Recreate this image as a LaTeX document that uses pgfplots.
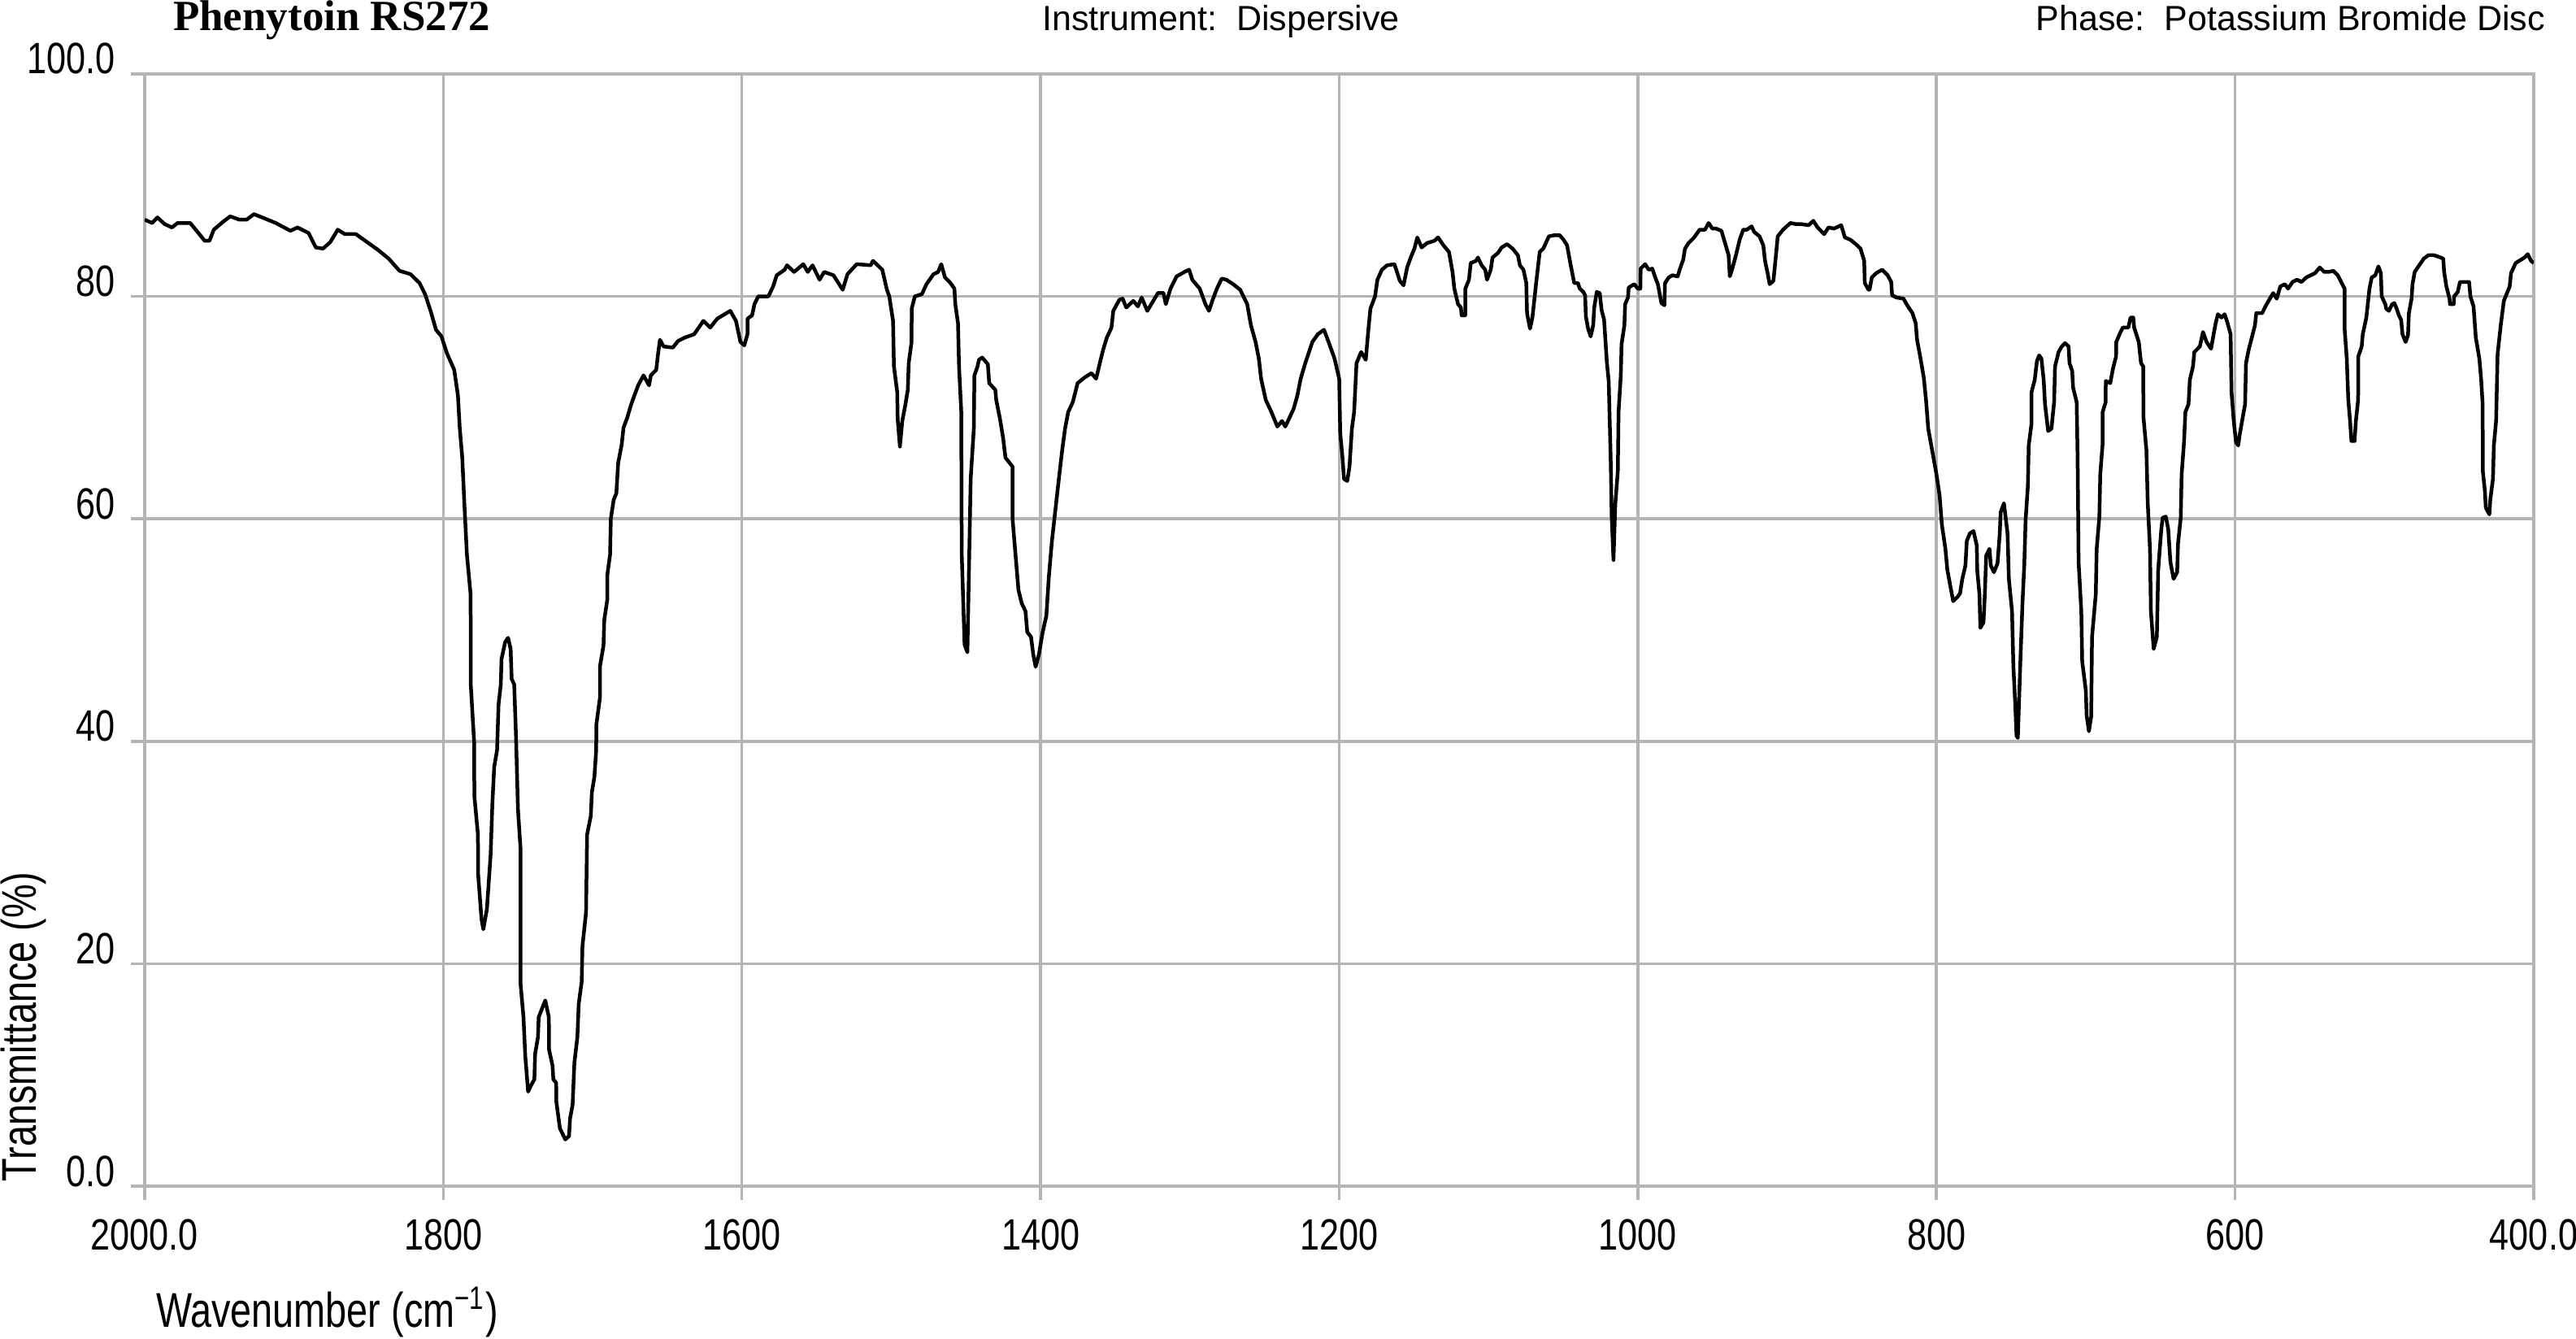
\documentclass[border=0pt]{standalone}
\usepackage{fontspec}
\usepackage{pgfplots}
\pgfplotsset{compat=1.18}
\setmainfont{Liberation Sans}
\newfontfamily\tickfont[FakeStretch=0.8]{Liberation Sans}
\newfontfamily\labfont[FakeStretch=0.78]{Liberation Sans}
\newfontfamily\headfont{Liberation Sans}
\newfontfamily\titlefont{Liberation Serif}
\definecolor{gridgray}{RGB}{180,180,180}
\pgfplotstableread{
x y
2000 86.9
1995 86.6
1991.5 87.1
1986.6 86.5
1981.7 86.2
1978 86.6
1969.5 86.6
1963.4 85.6
1959.8 85.0
1956.6 85.0
1953.7 86.0
1947.6 86.7
1942.7 87.2
1936.6 86.9
1931.7 86.9
1926.8 87.4
1919.5 87.0
1912.2 86.6
1902.4 85.9
1897.6 86.2
1890.2 85.7
1885.4 84.4
1880.5 84.3
1875.6 84.9
1870.7 86.0
1865.9 85.6
1858.5 85.6
1851.2 84.9
1843.9 84.2
1836.6 83.4
1829.3 82.3
1822 82.0
1815.9 81.2
1812.2 80.2
1808.5 78.7
1804.9 77.0
1801.2 76.4
1797.6 74.9
1792.7 73.4
1790.2 71.1
1789 68.2
1787.3 65.5
1785.9 61.4
1784.2 56.8
1781.7 53.2
1781.6 45.1
1779.3 39.8
1779.2 35.1
1776.8 31.6
1776.7 28.1
1774.4 24.0
1773.2 23.1
1770.8 24.9
1768.3 29.8
1767.1 34.5
1765.9 37.7
1764 39.2
1763 43.3
1761.5 45.1
1761 47.4
1758.6 48.9
1756.6 49.3
1754.9 48.3
1754.2 45.6
1752.5 45.1
1751.3 40.4
1750 33.9
1748.3 30.4
1748.2 18.1
1746.3 15.2
1745.1 11.7
1743.2 8.5
1741.5 9.0
1739 9.6
1738.5 11.9
1736.6 13.4
1736.1 15.2
1731.7 16.7
1729.3 15.2
1729.2 12.3
1726.8 10.8
1726.3 9.6
1724.4 9.3
1724.3 7.6
1721.9 5.2
1718.3 4.2
1715.8 4.5
1715.1 6.1
1713.4 7.3
1712.2 11.1
1710.2 13.4
1709.3 16.4
1707.3 18.4
1706.8 21.6
1704.4 24.6
1703.7 31.6
1701.2 33.3
1700.5 35.4
1698.8 36.8
1697.6 39.2
1697.5 41.5
1695.1 43.9
1695.0 46.8
1692.7 48.6
1692.2 50.9
1690.2 52.7
1690.1 55.0
1688.3 56.8
1687.8 60.0
1685.9 61.7
1684.1 62.3
1682.9 65.0
1680.5 66.7
1679.3 68.2
1676.8 69.1
1674.4 70.2
1672 71.1
1669.5 72.0
1665.9 72.9
1662.2 72.0
1661 72.9
1657.4 73.4
1656.1 74.9
1654.9 76.1
1652.5 75.5
1646.3 75.4
1642.7 76.0
1638.3 76.3
1632 76.6
1625.8 77.8
1621.2 77.2
1616.5 78.0
1610.3 78.5
1607.8 78.7
1604 77.8
1601 75.9
1598.4 75.6
1596.3 76.6
1596.2 78.0
1593.2 78.3
1591.6 79.3
1589.1 80.0
1582.3 80.0
1579.1 80.9
1576.7 81.9
1571.4 82.4
1569.8 82.8
1565.1 82.2
1558.9 82.9
1555.9 82.2
1552.7 82.8
1548 81.5
1544.9 82.2
1538.7 81.9
1532.5 80.6
1529.3 82.0
1523.1 82.9
1513.8 82.8
1512.2 83.2
1506 82.4
1502.9 80.6
1501.3 80.0
1498.8 77.8
1498.2 73.7
1496 71.4
1495.7 69.0
1494.2 66.5
1492.6 68.8
1490.5 70.3
1488.9 71.6
1488.3 74.0
1486.4 75.9
1486.3 78.9
1484.2 80.0
1479.5 80.2
1476.4 81.1
1471.7 82.0
1468.6 82.2
1466.5 82.9
1464 81.7
1460.9 81.3
1457.7 80.7
1457.1 79.3
1455.3 77.6
1454.6 73.7
1453.1 69.6
1452.8 56.9
1450.9 48.7
1449 48.0
1447.8 56.5
1446.8 63.6
1444.7 68.1
1444.3 72.9
1442.2 73.7
1441.3 74.3
1439.1 74.5
1435.3 73.9
1434.4 72.2
1430.3 71.6
1429.7 70.7
1427.2 69.0
1425.1 67.3
1423.5 65.5
1418.8 64.7
1418.7 59.9
1416.6 56.5
1414.8 53.6
1412.6 52.4
1410.1 51.7
1408.9 49.8
1406.4 49.4
1404.9 47.8
1403.3 46.7
1401.1 47.8
1398.6 49.8
1396.1 51.3
1394.5 54.7
1392.4 58.0
1389.9 61.0
1387.4 64.0
1385.5 66.2
1383.6 68.1
1381.5 69.6
1378.4 70.5
1375.2 72.2
1370.6 72.7
1365.9 73.1
1362.8 72.6
1360.3 74.0
1358.1 75.2
1355.6 76.3
1352.5 77.2
1351.3 78.7
1347.2 79.7
1345 79.8
1342.6 79.0
1337.9 79.6
1334.8 79.1
1332.3 79.9
1328.5 78.7
1325.4 79.4
1321.4 80.3
1317.7 80.3
1316.1 79.3
1313 80.7
1308.9 81.8
1303.6 82.2
1300.5 82.4
1298.4 81.5
1293.4 80.7
1289.6 79.3
1287.2 78.7
1285 79.6
1281.9 80.7
1278.7 81.6
1275.6 81.5
1271 81.1
1266.3 80.6
1261.6 79.3
1259.1 77.4
1256 75.9
1253.8 74.4
1252.3 72.6
1249.2 70.7
1245.4 69.6
1241.4 68.3
1238.3 68.8
1236.1 68.3
1233.6 69.0
1230.5 69.9
1228 71.1
1225.8 72.6
1222.7 74.0
1218 75.9
1214.3 76.6
1210.2 77.0
1207.1 75.9
1203.1 74.4
1200 72.6
1199.3 67.7
1197.8 65.5
1196.8 63.6
1194.6 63.4
1193.1 64.7
1191.5 68.1
1190 69.6
1188.4 74.0
1185.3 75.0
1182.2 74.3
1180.6 76.8
1179.1 78.9
1176 80.0
1174.4 81.5
1171.4 82.4
1167.9 82.8
1163 82.9
1159.4 81.4
1156.9 81.0
1154.5 82.6
1152.1 83.5
1149.6 84.3
1147.7 85.3
1144.8 84.4
1141.1 84.8
1136.2 85.0
1133.8 85.3
1130.2 84.6
1126.5 84.0
1124.1 82.2
1122.9 80.7
1120.4 79.3
1118.5 79.0
1118 78.3
1115.6 78.3
1115.5 80.7
1113.1 81.5
1111.9 83.0
1108.3 83.2
1107.1 83.5
1104.6 82.8
1102.2 82.4
1101 81.5
1098.5 82.4
1097.3 83.5
1093.7 83.9
1091.2 84.4
1087.6 84.7
1083.9 84.3
1080.3 83.7
1079 82.8
1076.6 82.4
1074.7 81.2
1074.2 78.5
1072.2 77.1
1070.6 78.1
1068.1 81.2
1065.7 84.0
1063.3 84.3
1059.6 85.4
1056 85.5
1052.3 85.5
1049.8 85.1
1047.4 84.6
1045.5 83.2
1042.6 81.2
1040.1 81.2
1038.9 80.7
1036.5 80.4
1035.3 80.1
1034.8 78.2
1033.3 77.1
1031.6 76.4
1029.9 77.4
1029.2 79.0
1027.5 80.4
1025.5 80.3
1024.3 78.8
1022.6 77.9
1020.7 74.0
1019.5 72.4
1018.2 65.5
1017.5 60.2
1016.3 56.3
1015.1 61.3
1013.4 64.3
1012.9 69.6
1011.4 72.9
1010.9 75.7
1009 77.4
1008.5 79.3
1006.6 79.9
1006.1 80.8
1002.4 81.1
1000 80.7
998.3 80.7
998.1 82.5
995.1 82.9
992.7 82.4
990.3 82.5
988.6 81.8
986.6 81.1
984.2 79.4
982.2 79.2
981.8 81.2
979.3 81.7
976.9 81.9
973.3 81.8
972 82.4
969.6 83.3
968.4 84.3
966 84.8
962.3 85.3
958.6 86.0
955 86.0
952.6 86.6
950.1 86.1
947.7 86.1
944 85.9
941.6 84.8
939.2 83.7
938.4 81.8
936.7 82.5
934.3 83.7
931.8 85.1
929.4 86.0
927 86.0
923.8 86.3
922.1 85.8
918.5 85.4
916 84.6
914.8 83.2
913.1 82.1
911.7 81.1
909.2 81.4
907.5 83.7
906.3 85.4
902.7 86.0
897.8 86.6
894.1 86.5
890.5 86.5
885.6 86.4
882.5 86.8
879.6 86.2
875.2 85.6
872.3 86.2
868.6 86.1
863.8 86.4
861.3 85.3
857.7 85.1
854 84.7
850.9 84.3
848.4 83.2
848 81.2
845.5 80.6
844.8 80.6
843.3 81.7
840.3 82.1
836.4 82.4
832.7 81.9
830.3 81.3
829.7 80.1
826.7 79.9
822.1 79.8
819.1 79.1
816.1 78.5
813.9 77.6
813 76.1
810.9 74.6
808.5 72.7
807 70.7
805.5 68.1
802.4 65.8
800 64.0
797.9 62.1
796.4 59.5
794 57.3
792.7 55.4
790.9 54.1
788.8 52.6
785.8 53.0
784.2 53.3
782.7 54.6
780.6 55.8
779.7 58.0
777.6 58.7
775.2 58.9
773 57.6
772.7 55.4
771.2 53.2
770.6 50.2
768.5 50.7
767.6 53.2
766.7 56.7
764.5 57.3
763.6 55.8
761.5 55.2
759.1 56.0
757.6 58.7
757 60.6
754.8 61.4
752.4 58.7
751.5 54.6
749.4 51.7
748.5 46.8
747.3 43.5
746.4 40.5
745.5 40.3
743.9 46.8
742.4 52.4
741.2 55.8
740.3 59.9
738.8 62.9
738.2 66.6
736.4 68.5
736.3 71.4
734.2 72.5
732.7 74.2
731.2 74.7
729.7 74.4
728.2 72.5
727.3 70.3
725.2 67.9
723 68.1
721.2 70.5
720.6 73.7
718.2 75.0
716.1 75.5
713.9 75.8
711.5 75.5
710.9 74.0
709.1 73.3
708.5 71.8
706.1 70.5
705.5 65.8
704.8 56.1
703 51.7
702.4 47.2
700 44.6
699.4 42.3
697.9 40.9
696.4 42.2
695.8 49.4
693.3 53.2
692.7 57.3
690.9 60.2
690.3 64.0
688.8 66.6
688.7 69.6
686.7 70.5
686.6 72.4
683.6 72.2
681.8 73.5
679.7 74.6
679.6 75.9
676.7 76.8
675.2 77.2
671.5 77.2
670 78.1
668.2 78.1
667.6 77.2
664.5 75.9
663 74.0
661.5 73.7
661.4 69.2
659.4 66.2
658.5 61.4
657 57.3
656.4 51.7
654.5 48.3
652.4 49.4
651.5 55.4
649.4 59.1
648.5 60.1
646.4 60.2
644.8 59.1
643.3 56.1
641.2 54.6
638.8 55.2
638.2 57.8
636.4 60.1
635.8 64.0
634.2 66.9
633.3 69.6
631.2 70.3
630.3 72.5
628.2 73.7
627.3 75.0
623.6 75.5
621.5 76.8
619.1 75.9
616.1 75.3
614.5 76.5
613 77.6
611.5 78.4
609.1 78.1
607 78.4
605.5 77.8
603 76.6
602.4 71.4
600.9 68.8
599.4 66.9
597.9 66.6
597 67.5
594.8 69.2
593.3 70.3
592.7 74.0
590.9 75.2
588.8 76.3
586.7 77.4
585.8 78.5
581.8 78.5
579.7 79.1
576.7 79.8
574.5 80.3
572.1 79.8
569.7 80.9
566.7 81.1
564.5 80.7
561.5 81.3
558.5 81.5
555.5 81.3
552.4 81.7
549.4 81.9
546.4 82.1
543.3 82.6
540.3 82.2
537.3 82.2
534.2 82.3
531.2 81.9
528.2 81.1
526.7 80.7
526.6 77.0
525.2 74.4
524.2 70.7
523 68.8
522.1 67.0
520 67.0
519.1 68.8
517.6 70.7
517.5 74.6
515.2 75.5
514.5 76.6
512.1 78.1
510.9 79.6
510 80.7
508.5 81.7
506.1 81.9
504 82.7
502.4 82.1
501.8 80.0
499.4 79.3
498.8 78.9
497 78.7
494.8 79.3
493.3 79.4
491.8 78.9
490.3 78.3
488.8 77.9
487.9 76.6
485.8 75.9
484.2 76.5
483.6 78.5
481.8 79.8
481.2 81.1
479.7 82.2
476.7 82.8
473.6 83.4
470.6 83.7
466.7 83.7
462.4 83.5
460.6 83.4
460 82.2
458.5 80.9
456.4 79.8
456.1 79.3
453.6 79.3
453.3 80.0
450.9 80.4
449.4 81.3
443.3 81.3
442.4 80.0
440.3 79.1
438.8 76.3
436.4 74.4
435.2 72.5
434.2 70.3
434.1 64.3
432.7 62.5
432.1 61.0
429.7 60.4
429.1 61.7
427.3 63.6
426.7 66.6
425.2 68.8
424.2 74.8
422.1 77.4
420 79.6
417.6 80.4
416.1 80.9
415.2 82.1
412.1 83.0
408.5 83.3
406.1 83.5
404 83.8
401.8 83.2
400 83.0
}\spectrum
\begin{document}
\begin{tikzpicture}
\begin{axis}[
  at={(0,0)}, anchor=south west,
  scale only axis, width=587.8pt, height=273.6pt,
  x dir=reverse, xmin=400, xmax=2000, ymin=0, ymax=100,
  xtick={400,600,800,1000,1200,1400,1600,1800,2000},
  xticklabels={400.0,600,800,1000,1200,1400,1600,1800,2000.0},
  ytick={0,20,40,60,80,100},
  yticklabels={0.0,20,40,60,80,100.0},
  grid=major,
  major grid style={draw=gridgray, line width=0.7pt},
  axis line style={draw=gridgray, line width=0.8pt},
  tick style={draw=gridgray, line width=0.7pt},
  tick align=outside, major tick length=3.3pt,
  tick pos=left,
  xticklabel style={font=\tickfont\fontsize{10.8}{12}\selectfont, anchor=north, inner sep=0pt, yshift=-4.6pt},
  yticklabel style={font=\tickfont\fontsize{10.8}{12}\selectfont, anchor=base east, inner sep=0pt, xshift=-3.8pt},
]
\addplot[black, line width=0.9pt, line join=round] table[x=x, y=y] {\spectrum};
\end{axis}
\node[anchor=base west, inner sep=0pt, font=\titlefont\bfseries\fontsize{10.6}{12}\selectfont] at (6.8pt,284.2pt) {Phenytoin RS272};
\node[anchor=base, inner sep=0pt, font=\headfont\fontsize{8.6}{10}\selectfont] at (264.8pt,284.2pt) {Instrument:\ \ Dispersive};
\node[anchor=base east, inner sep=0pt, font=\headfont\fontsize{8.6}{10}\selectfont] at (590.8pt,284.2pt) {Phase:\ \ Potassium Bromide Disc};
\node[anchor=base west, inner sep=0pt, rotate=90, font=\labfont\fontsize{12}{14}\selectfont] at (-26.6pt,1pt) {Transmittance (\%)};
\node[anchor=base west, inner sep=0pt, font=\labfont\fontsize{12}{14}\selectfont] at (2.6pt,-34.6pt) {Wavenumber (cm\textsuperscript{\char"2212 1})};
\pgfresetboundingbox
\path[use as bounding box] (-35.6pt,-37.4pt) rectangle (598.2pt,291.8pt);
\end{tikzpicture}
\end{document}
